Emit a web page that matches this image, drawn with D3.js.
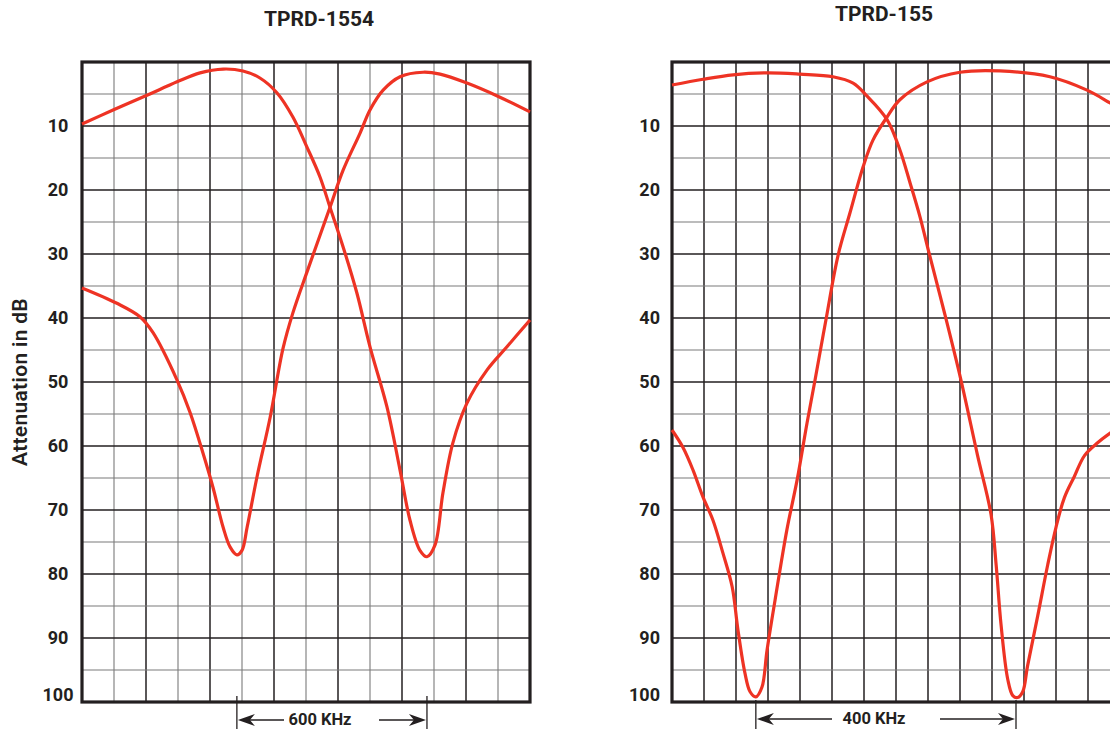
<!DOCTYPE html>
<html>
<head>
<meta charset="utf-8">
<script src="https://cdn.jsdelivr.net/npm/d3@7"></script>
<style>
  body { margin: 0; background: #fff; }
  svg { display: block; font-family: Roboto, "Noto Sans", sans-serif; }
</style>
</head>
<body>
<div id="chart"></div>
<script>
// attenuation (dB) vs frequency, x in grid divisions (14 per chart)
const titles = ["TPRD-1554", "TPRD-155"];
const spanLabels = ["600 KHz", "400 KHz"];
const dbTicks = [10, 20, 30, 40, 50, 60, 70, 80, 90, 100];

// notch positions that the span arrows point at
const spanMarks1554 = [4.84, 10.78];
const spanMarks155 = [2.62, 10.75];

const tprd1554Low = [
  [0, 9.7], [0.97, 7.5], [2.03, 5.2], [2.97, 3.1], [3.69, 1.7], [4.41, 1.1],
  [5.03, 1.4], [5.56, 2.5], [6.09, 4.8], [6.59, 8.6], [7.03, 13.3], [7.44, 18.0],
  [7.75, 22.7], [8.16, 28.9], [8.59, 36.1], [9.0, 44.5], [9.53, 53.9], [9.94, 63.8],
  [10.25, 71.6], [10.56, 76.3], [10.78, 77.3], [11.03, 75.5], [11.28, 67.3],
  [11.59, 59.5], [12.03, 53.3], [12.66, 48.1], [13.28, 44.5], [14, 40.3]
];
const tprd1554High = [
  [0, 35.3], [1.09, 37.7], [1.81, 39.8], [2.22, 42.3], [2.97, 49.7], [3.38, 54.8],
  [3.78, 61.1], [4.09, 66.4], [4.41, 72.7], [4.63, 75.8], [4.84, 77.0], [5.0, 76.3],
  [5.16, 72.7], [5.47, 64.8], [5.88, 55.5], [6.28, 44.8], [6.59, 39.2], [7.06, 32.4],
  [7.75, 22.7], [8.16, 16.9], [8.69, 11.1], [9.0, 7.5], [9.41, 4.4],
  [9.94, 2.3], [10.66, 1.6], [11.19, 1.9], [12.03, 3.3], [13.06, 5.5], [14, 7.8]
];

const tprd155Low = [
  [0, 3.6], [0.97, 2.7], [1.91, 2.0], [2.97, 1.7], [4.0, 1.9], [5.03, 2.3],
  [5.66, 3.3], [6.09, 5.3], [6.72, 9.0], [7.12, 13.7], [7.44, 18.9], [7.75, 24.2],
  [8.0, 29.2], [8.51, 39.1], [9.03, 49.7], [9.55, 61.5], [9.97, 70.7], [10.13, 78.6],
  [10.28, 87.8], [10.49, 96.4], [10.65, 99.0], [10.8, 99.3], [10.96, 98.4],
  [11.11, 94.4], [11.43, 86.5], [11.74, 78.6], [12.0, 72.7], [12.26, 68.1],
  [12.57, 64.8], [12.89, 61.5], [13.3, 59.5], [13.72, 57.9], [14, 57.0]
];
const tprd155High = [
  [0, 57.5], [0.34, 60.2], [0.66, 63.8], [0.97, 68.0], [1.28, 71.6], [1.59, 76.7],
  [1.88, 82.0], [2.06, 88.7], [2.28, 95.5], [2.44, 98.4], [2.62, 99.2], [2.81, 97.7],
  [2.97, 91.9], [3.22, 84.1], [3.59, 73.1], [3.91, 65.3], [4.22, 56.4], [4.47, 49.7],
  [4.81, 40.3], [5.19, 30.2], [5.56, 23.6], [5.97, 16.4], [6.28, 12.2], [6.72, 8.6],
  [7.12, 5.9], [7.97, 3.1], [9.0, 1.6], [10.25, 1.4], [11.81, 2.3], [12.97, 4.4],
  [13.69, 6.4], [14, 7.3]
];

const width = 1110, height = 729;
const red = "#ee3324", ink = "#231f20", gray = "#7a7a7a";

const svg = d3.select("#chart").append("svg")
  .attr("width", width)
  .attr("height", height);

function drawPanel(opts) {
  const x = d3.scaleLinear().domain([0, 14]).range([opts.left, opts.left + 448]);
  const y = d3.scaleLinear().domain([0, 100]).range([62, 702]);
  const g = svg.append("g");

  // vertical grid
  g.append("g")
    .selectAll("line")
    .data(d3.range(1, 14))
    .join("line")
    .attr("x1", d => x(d)).attr("x2", d => x(d))
    .attr("y1", y(0)).attr("y2", y(100))
    .attr("stroke", d => (opts.altCols && d % 2 == 1) ? gray : ink)
    .attr("stroke-width", d => (opts.altCols && d % 2 == 1) ? 1.1 : 1.5);

  // horizontal grid, 5 dB steps
  g.append("g")
    .selectAll("line")
    .data(d3.range(5, 100, 5))
    .join("line")
    .attr("x1", x(0)).attr("x2", x(14))
    .attr("y1", d => y(d)).attr("y2", d => y(d))
    .attr("stroke", d => d % 10 == 0 ? ink : gray)
    .attr("stroke-width", d => d % 10 == 0 ? 1.6 : 1.1);

  g.append("rect")
    .attr("x", x(0)).attr("y", y(0))
    .attr("width", x(14) - x(0)).attr("height", y(100) - y(0))
    .attr("fill", "none")
    .attr("stroke", ink)
    .attr("stroke-width", 3.2);

  // db labels
  g.append("g")
    .attr("text-anchor", opts.labelAnchor)
    .selectAll("text")
    .data(dbTicks)
    .join("text")
    .attr("x", opts.labelX)
    .attr("y", d => y(d) + (d == 100 ? -1 : 6))
    .attr("font-size", 18)
    .attr("font-weight", 700)
    .attr("fill", ink)
    .text(d => d);

  const line = d3.line()
    .x(d => x(d[0]))
    .y(d => y(d[1]))
    .curve(d3.curveCatmullRom.alpha(0.5));

  g.append("g")
    .selectAll("path")
    .data(opts.series)
    .join("path")
    .attr("d", line)
    .attr("fill", "none")
    .attr("stroke", red)
    .attr("stroke-width", 3.2)
    .attr("stroke-linejoin", "round");

  svg.append("text")
    .attr("x", opts.titleX)
    .attr("y", opts.titleY)
    .attr("text-anchor", "middle")
    .attr("font-size", 21)
    .attr("font-weight", 700)
    .attr("fill", ink)
    .text(opts.title);

  // span arrows under the chart
  const [m0, m1] = opts.marks.map(x);
  const ay = opts.arrowY;
  const ann = svg.append("g").attr("fill", ink).attr("stroke", ink);
  ann.selectAll("line.tick")
    .data([m0, m1])
    .join("line")
    .attr("class", "tick")
    .attr("x1", d => d).attr("x2", d => d)
    .attr("y1", opts.tickTop).attr("y2", height)
    .attr("stroke-width", 1.3);
  ann.append("line")
    .attr("x1", m0 + 12).attr("x2", opts.gap[0])
    .attr("y1", ay).attr("y2", ay).attr("stroke-width", 1.5);
  ann.append("line")
    .attr("x1", opts.gap[1]).attr("x2", m1 - 12)
    .attr("y1", ay).attr("y2", ay).attr("stroke-width", 1.5);
  ann.append("path")
    .attr("stroke", "none")
    .attr("d", `M${m0 + 1},${ay} L${m0 + 18},${ay - 6} L${m0 + 13},${ay} L${m0 + 18},${ay + 6} Z`);
  ann.append("path")
    .attr("stroke", "none")
    .attr("d", `M${m1 - 1},${ay} L${m1 - 18},${ay - 6} L${m1 - 13},${ay} L${m1 - 18},${ay + 6} Z`);
  ann.append("text")
    .attr("stroke", "none")
    .attr("x", opts.spanX)
    .attr("y", ay + 5)
    .attr("text-anchor", "middle")
    .attr("font-size", 16.5)
    .attr("font-weight", 700)
    .text(opts.span);
}

drawPanel({
  left: 82, altCols: true, labelX: 58, labelAnchor: "middle",
  series: [tprd1554Low, tprd1554High],
  title: titles[0], titleX: 319, titleY: 26,
  marks: spanMarks1554, arrowY: 720, tickTop: 696, gap: [284, 379], spanX: 320,
  span: spanLabels[0]
});

drawPanel({
  left: 672, altCols: false, labelX: 660, labelAnchor: "end",
  series: [tprd155Low, tprd155High],
  title: titles[1], titleX: 884, titleY: 21,
  marks: spanMarks155, arrowY: 719, tickTop: 700, gap: [832, 940], spanX: 874,
  span: spanLabels[1]
});

svg.append("text")
  .attr("transform", "translate(27,382) rotate(-90)")
  .attr("text-anchor", "middle")
  .attr("font-size", 21)
  .attr("font-weight", 600)
  .attr("fill", ink)
  .attr("letter-spacing", 0.3)
  .text("Attenuation in dB");
</script>
</body>
</html>
